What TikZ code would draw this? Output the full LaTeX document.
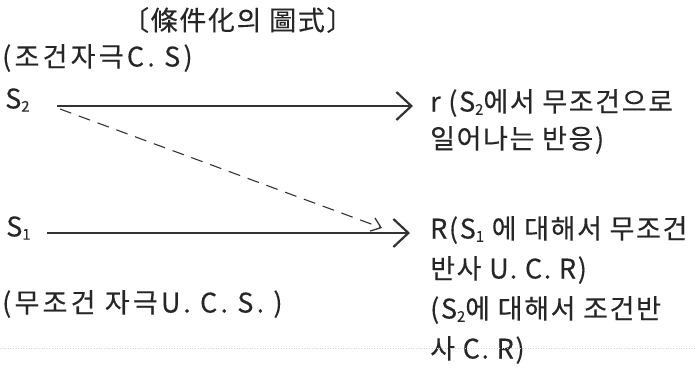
\documentclass[tikz,border=0pt]{standalone}
\usepackage{fontspec}
\setmainfont{Noto Sans CJK KR}[LetterSpace=6,FakeBold=0.3]
\usetikzlibrary{arrows.meta}
\newcommand\lsub[1]{\raisebox{-0.12em}{\scalebox{0.55}{#1}}}
\tikzset{
  lbl/.style={anchor=west, inner sep=0pt, font=\fontsize{27}{33}\selectfont, text=black!85},
  widelbl/.style={lbl, font=\fontsize{27}{33}\selectfont\addfontfeatures{LetterSpace=12}},
  solidarr/.style={line width=2pt, draw=black!80, -{Straight Barb[length=15pt,width=28pt,line width=2.2pt]}},
  dasharr/.style={line width=1.1pt, draw=black!80, dash pattern=on 12pt off 8pt, -{Straight Barb[length=9pt,width=14pt,line width=1.3pt]}},
}
\begin{document}
\begin{tikzpicture}[x=1pt,y=-1pt]
\useasboundingbox (0,0) rectangle (697,368);
% title
\node[lbl] (title) at (122,20) {〔條件化의 圖式〕};
\node[widelbl] (cs) at (2,58) {(조건자극C. S)};
\node[lbl] (s2) at (5,100) {S\lsub{2}};
\node[lbl] (s1) at (6,228) {S\lsub{1}};
\node[widelbl] (ucs) at (2,304) {(무조건 자극U. C. S. )};
% right texts
\node[lbl] (r1) at (430,103) {r (S\lsub{2}에서 무조건으로};
\node[lbl] (r2) at (430,140) {일어나는 반응)};
\node[lbl] (R1) at (430,230) {R(S\lsub{1} 에 대해서 무조건};
\node[lbl] (R2) at (430,270) {반사 U. C. R)};
\node[lbl] (R3) at (430,310) {(S\lsub{2}에 대해서 조건반};
\node[lbl] (R4) at (430,350) {사 C. R)};
% connector endpoints
\coordinate (a1s) at (57,106);
\coordinate (a1e) at (413,106);
\coordinate (a2s) at (47,233);
\coordinate (a2e) at (410,233);
\coordinate (ds) at (60,109);
\coordinate (de) at (382,228);
\draw[solidarr] (a1s) -- (a1e);
\draw[solidarr] (a2s) -- (a2e);
\draw[dasharr] (ds) -- (de);
% faint scan line
\coordinate (fl) at (0,348);
\coordinate (fr) at (697,348);
\draw[gray!35, line width=0.6pt, dotted] (fl) -- (fr);
\end{tikzpicture}
\end{document}
